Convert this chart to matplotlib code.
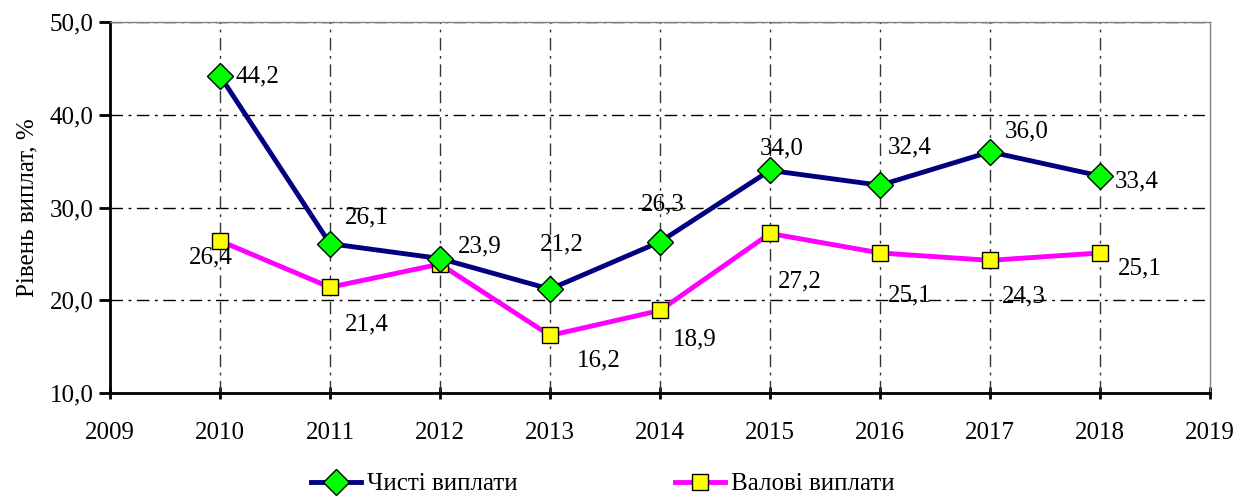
import matplotlib
matplotlib.use("Agg")
import matplotlib.pyplot as plt
from matplotlib.ticker import FuncFormatter, MultipleLocator

years = [2010, 2011, 2012, 2013, 2014, 2015, 2016, 2017, 2018]
net = [44.2, 26.1, 24.5, 21.2, 26.3, 34.0, 32.4, 36.0, 33.4]
gross = [26.4, 21.4, 23.9, 16.2, 18.9, 27.2, 25.1, 24.3, 25.1]
net_labels = ["44,2", "26,1", "", "21,2", "26,3", "34,0", "32,4", "36,0", "33,4"]
gross_labels = ["26,4", "21,4", "23,9", "16,2", "18,9", "27,2", "25,1", "24,3", "25,1"]
net_name = "Чисті виплати"
gross_name = "Валові виплати"
y_title = "Рівень виплат, %"

plt.rcParams['font.family'] = ['Liberation Serif', 'DejaVu Serif']
FS = 18

fig = plt.figure(figsize=(12.43, 4.96), dpi=100)
ax = fig.add_axes([110/1243, 1-393/496, 1100/1243, 371/496])

ax.plot(years, gross, color='#ff00ff', lw=3.5, marker='s', ms=11.5,
        mfc='#ffff00', mec='black', mew=1, label=gross_name, zorder=3)
ax.plot(years, net, color='#000080', lw=3.5, marker='D', ms=13,
        mfc='#00ff00', mec='black', mew=1, label=net_name, zorder=4)

net_off = [(16, -1), (15, 26), (0, 0), (-10, 45), (-19, 37), (-10, 22), (8, 38), (15, 20), (15, -5)]
gross_off = [(-31, -17), (15, -37), (18, 18), (27, -25), (13, -29), (8, -48), (8, -43), (12, -36), (18, -16)]
for x, y, t, o in zip(years, net, net_labels, net_off):
    if t:
        ax.annotate(t, (x, y), xytext=o, textcoords='offset pixels', fontsize=FS,
                    ha='left', va='center', zorder=5)
for x, y, t, o in zip(years, gross, gross_labels, gross_off):
    bb = dict(boxstyle='square,pad=0.05', fc='white', ec='none') if x == 2012 else None
    ax.annotate(t, (x, y), xytext=o, textcoords='offset pixels', fontsize=FS,
                ha='left', va='center', zorder=5, bbox=bb)

ax.set_xlim(2009, 2019)
ax.set_ylim(10, 50)
ax.xaxis.set_major_locator(MultipleLocator(1))
ax.yaxis.set_major_locator(MultipleLocator(10))
ax.yaxis.set_major_formatter(FuncFormatter(lambda v, p: f"{v:.1f}".replace('.', ',')))
ax.tick_params(axis='y', labelsize=FS, direction='out', length=8, width=2, color='black', pad=4)
ax.tick_params(axis='x', labelsize=FS, direction='inout', length=8, width=2, color='black', pad=17)

ax.yaxis.grid(True, color='black', linestyle=(0, (9, 4, 2, 4)), linewidth=1)
for xg in years:
    ax.axvline(xg, color='#333333', linestyle=(0, (9, 4, 2, 4)), linewidth=1, zorder=1)
ax.set_axisbelow(True)

for s in ['top', 'right']:
    ax.spines[s].set_color('#808080')
    ax.spines[s].set_linewidth(1)
ax.spines['left'].set_linewidth(2)
ax.spines['bottom'].set_linewidth(2)
ax.set_ylabel(y_title, fontsize=FS, labelpad=8)

h, l = ax.get_legend_handles_labels()
leg = fig.legend([h[1], h[0]], [l[1], l[0]], loc='center',
                 bbox_to_anchor=(0.485, 1 - 484/496),
                 ncol=2, frameon=False, fontsize=FS, columnspacing=6.3, handlelength=2.0,
                 handletextpad=0.25, borderpad=0, borderaxespad=0)

fig.savefig("out.png", dpi=100)
